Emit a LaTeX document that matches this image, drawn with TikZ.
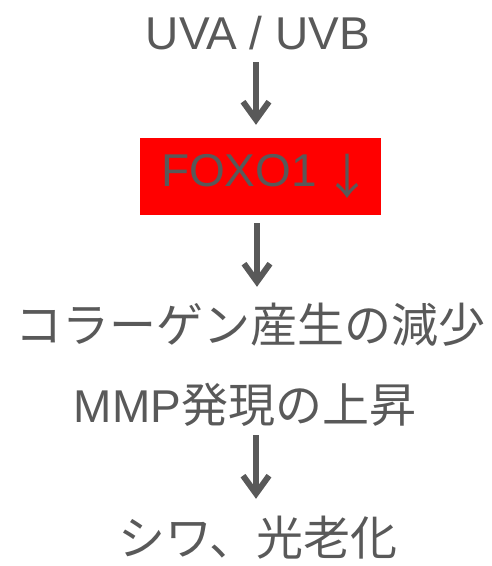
\documentclass[tikz,border=0pt]{standalone}
\usepackage{fontspec}
\setmainfont{Liberation Sans}
\newfontfamily\jpfont{Noto Sans CJK JP}
\usetikzlibrary{arrows.meta}
\definecolor{txtgray}{HTML}{595959}
\definecolor{boxred}{HTML}{FF0000}
\tikzset{
  lat/.style={inner sep=0pt, text=txtgray, font=\fontsize{46}{46}\selectfont, text height=33pt, text depth=0pt},
  jp/.style={inner sep=0pt, text=txtgray, font=\jpfont\fontsize{47}{47}\selectfont, text height=38pt, text depth=3pt},
  redbox/.style={fill=boxred, inner sep=0pt, minimum width=241pt, minimum height=77pt, text=txtgray, font=\fontsize{46}{46}\selectfont},
  flow/.style={draw=txtgray, line width=6pt, -{Straight Barb[length=18pt,width=26pt]}}
}
\begin{document}
\begin{tikzpicture}[x=1pt,y=1pt]
\useasboundingbox (0,0) rectangle (492,566);
\node[lat, anchor=base] (uv) at (258,516) {UVA / UVB};
\node[redbox] (foxo) at (260.5,389.5) {FOXO1\kern7pt{\jpfont\raisebox{-8pt}{\fontsize{48}{48}\selectfont ↓}}\kern-12pt};
\node[jp] (coll) at (251,241) {コラーゲン産生の減少};
\node[jp] (mmp) at (245,161) {{\fontspec{Liberation Sans}\fontsize{46}{46}\selectfont MMP}発現の上昇};
\node[jp] (shiwa) at (258,28) {シワ、光老化};
\draw[flow] ([xshift=-2pt,yshift=-12pt]uv.south) -- ([xshift=-4.5pt,yshift=13pt]foxo.north);
\draw[flow] ([xshift=-3.5pt,yshift=-8pt]foxo.south) -- ([xshift=6pt,yshift=17.5pt]coll.north);
\draw[flow] ([xshift=11pt,yshift=-9.5pt]mmp.south) -- ([xshift=-2pt,yshift=18.5pt]shiwa.north);
\end{tikzpicture}
\end{document}
